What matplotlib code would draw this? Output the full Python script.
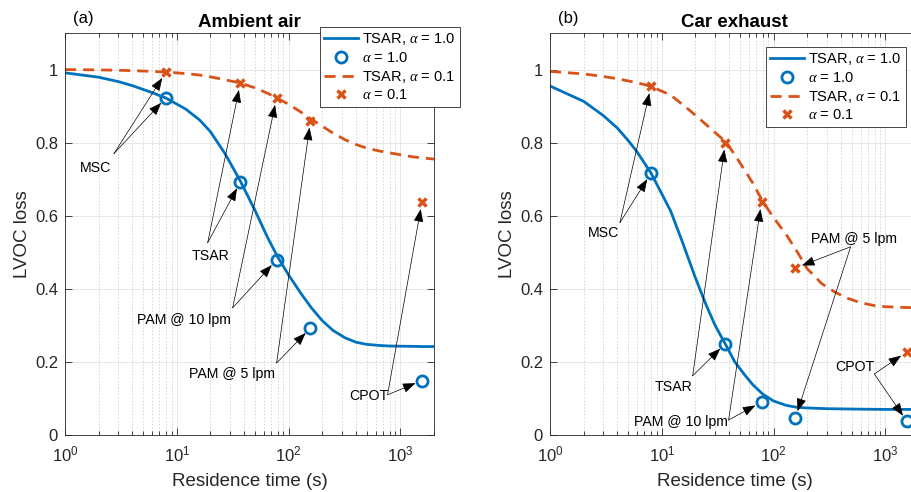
import numpy as np
import matplotlib
matplotlib.use('Agg')
import matplotlib.pyplot as plt
from matplotlib.ticker import FixedLocator, FuncFormatter

plt.rcParams['font.family'] = ['Liberation Sans', 'DejaVu Sans']
plt.rcParams['mathtext.fontset'] = 'custom'
plt.rcParams['mathtext.rm'] = 'Liberation Sans'
plt.rcParams['mathtext.it'] = 'Liberation Serif:italic'
plt.rcParams['mathtext.default'] = 'rm'

blue = '#0072BD'
orange = '#D95319'
dark = '#262626'

# residence times of the reactors (s) and their labels
res_time = [8, 37, 78, 157, 1560]
reactors = ['MSC', 'TSAR', 'PAM @ 10 lpm', 'PAM @ 5 lpm', 'CPOT']

# (a) ambient air
amb_a1 = [0.923, 0.692, 0.479, 0.293, 0.149]
amb_a01 = [0.993, 0.963, 0.922, 0.86, 0.637]
amb_t = [1, 2, 3, 4, 6, 8, 12, 16, 20, 27, 37, 50, 65, 80, 100, 130, 160,
         200, 250, 320, 400, 500, 650, 800, 1000, 1300, 1600, 2000]
amb_tsar_a1 = [0.991, 0.979, 0.967, 0.956, 0.937, 0.922, 0.892, 0.862, 0.83,
               0.77, 0.695, 0.615, 0.54, 0.487, 0.438, 0.386, 0.348, 0.313,
               0.286, 0.266, 0.254, 0.248, 0.245, 0.2435, 0.243, 0.2425,
               0.242, 0.242]
amb_tsar_a01 = [1.0, 0.999, 0.998, 0.997, 0.995, 0.993, 0.989, 0.985, 0.98,
                0.972, 0.963, 0.95, 0.935, 0.921, 0.905, 0.883, 0.864, 0.845,
                0.826, 0.808, 0.795, 0.785, 0.777, 0.772, 0.767, 0.761, 0.758,
                0.755]

# (b) car exhaust
car_a1 = [0.716, 0.25, 0.09, 0.047, 0.037]
car_a01 = [0.954, 0.80, 0.637, 0.457, 0.228]
car_t1 = [1, 2, 3, 4, 5, 6, 8, 10, 12, 15, 20, 25, 30, 37, 45, 55, 65, 80,
          100, 130, 160, 200, 300, 500, 1000, 2000]
car_tsar_a1 = [0.955, 0.913, 0.874, 0.84, 0.806, 0.775, 0.717, 0.66, 0.613,
               0.535, 0.43, 0.355, 0.3, 0.249, 0.2, 0.165, 0.138, 0.112, 0.093,
               0.081, 0.076, 0.074, 0.072, 0.071, 0.070, 0.070]
car_t01 = [1, 2, 3, 4, 6, 8, 12, 16, 20, 27, 38, 50, 65, 80, 100, 130, 160,
           200, 270, 350, 450, 600, 800, 1000, 1500, 2000]
car_tsar_a01 = [0.995, 0.988, 0.981, 0.975, 0.964, 0.954, 0.93, 0.90, 0.875,
                0.84, 0.80, 0.745, 0.69, 0.639, 0.595, 0.548, 0.505, 0.455,
                0.414, 0.392, 0.375, 0.362, 0.354, 0.351, 0.349, 0.348]

# label centres and arrow tails, data coords
amb_text = [(1.89, 0.73), (20.1, 0.49), (11.65, 0.315), (31.2, 0.167), (520, 0.107)]
amb_tail = [(2.74, 0.77), (18.9, 0.526), (31.6, 0.348), (78.2, 0.197), (768, 0.11)]
car_text = [(3.0, 0.553), (12.8, 0.132), (14.8, 0.036), (520, 0.537), (529, 0.186)]
car_tail = [(4.22, 0.581), (18.9, 0.162), (39.6, 0.041), (489, 0.515), (797, 0.167)]


def draw_panel(ax, t1, y1, t01, y01, m1, m01, txt, tails, title, tag):
    ax.plot(t1, y1, '-', color=blue, lw=2, label=r'TSAR, $\mathit{\alpha}$ = 1.0')
    ax.plot(res_time, m1, 'o', mfc='none', mec=blue, ms=8, mew=2,
            label=r'$\mathit{\alpha}$ = 1.0', zorder=4)
    ax.plot(t01, y01, '--', color=orange, lw=2, dashes=(4, 2.5),
            label=r'TSAR, $\mathit{\alpha}$ = 0.1')
    ax.plot(res_time, m01, 'x', color=orange, ms=6, mew=2.5,
            label=r'$\mathit{\alpha}$ = 0.1', zorder=4)

    for i, name in enumerate(reactors):
        ax.text(txt[i][0], txt[i][1], name, ha='center', va='center',
                fontsize=10.2, color='k', zorder=6)
        for yy in (m1[i], m01[i]):
            ax.annotate('', xy=(res_time[i], yy), xytext=tails[i],
                        arrowprops=dict(arrowstyle='-|>,head_length=0.8,head_width=0.3',
                                        color='k', lw=0.5, shrinkA=0, shrinkB=5),
                        zorder=6)

    ax.set_xscale('log')
    ax.set_xlim(1, 2000)
    ax.set_ylim(0, 1.1)
    ax.xaxis.set_major_locator(FixedLocator([1, 10, 100, 1000]))
    ax.xaxis.set_minor_locator(FixedLocator(
        [m * 10 ** d for d in range(4) for m in range(2, 10) if m * 10 ** d <= 2000]))
    ax.xaxis.set_major_formatter(FuncFormatter(
        lambda v, p: r'$\mathregular{10^{%d}}$' % round(np.log10(v))))
    ax.set_yticks([0, 0.2, 0.4, 0.6, 0.8, 1.0])
    ax.yaxis.set_major_formatter(FuncFormatter(lambda v, p: '%g' % v))
    ax.tick_params(which='both', direction='in', top=True, right=True,
                   color=dark, labelcolor=dark, width=0.6, labelsize=12)
    ax.tick_params(which='major', length=5)
    ax.tick_params(which='minor', length=3)
    ax.tick_params(axis='x', pad=7)
    ax.tick_params(axis='y', pad=5)
    for s in ax.spines.values():
        s.set_color(dark)
        s.set_linewidth(0.6)
    ax.set_axisbelow(True)
    ax.grid(True, which='major', color='#e3e3e3', lw=0.6)
    ax.grid(True, which='minor', axis='x', color='#d4d4d4', lw=0.6, ls=(0, (2, 2)))
    ax.set_xlabel('Residence time (s)', fontsize=13.5, color=dark, labelpad=6)
    ax.set_ylabel('LVOC loss', fontsize=13.5, color=dark, labelpad=3)
    ax.set_title(title, fontsize=13.5, fontweight='bold', pad=4)
    ax.text(0.022, 1.037, tag, transform=ax.transAxes, fontsize=12,
            ha='left', va='center')


fig = plt.figure(figsize=(9.12, 4.92), dpi=100)
ax1 = fig.add_axes([65 / 912, 1 - 435 / 492, 369 / 912, 402 / 492])
ax2 = fig.add_axes([550 / 912, 1 - 435 / 492, 369 / 912, 402 / 492])

draw_panel(ax1, amb_t, amb_tsar_a1, amb_t, amb_tsar_a01, amb_a1, amb_a01,
           amb_text, amb_tail, 'Ambient air', '(a)')
draw_panel(ax2, car_t1, car_tsar_a1, car_t01, car_tsar_a01, car_a1, car_a01,
           car_text, car_tail, 'Car exhaust', '(b)')

for ax, anchor in ((ax1, (1.07, 1.015)), (ax2, (0.965, 0.965))):
    leg = ax.legend(loc='upper right', bbox_to_anchor=anchor, fontsize=10.5,
                    handlelength=2.3, handletextpad=0.3, labelspacing=0.25,
                    borderpad=0.3, borderaxespad=0, fancybox=False,
                    framealpha=1, edgecolor=dark)
    leg.get_frame().set_linewidth(0.6)
    leg.set_zorder(10)

fig.savefig('out.png', dpi=100)
